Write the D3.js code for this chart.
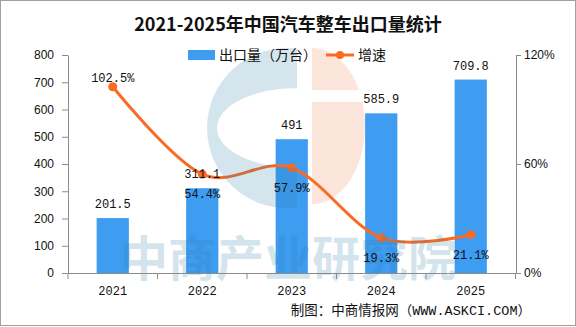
<!DOCTYPE html>
<html><head><meta charset="utf-8">
<script src="https://cdn.jsdelivr.net/npm/d3@7"></script>
<style>body{margin:0;background:#fff}svg{display:block}</style>
</head><body>
<svg id="chart" width="576" height="327"></svg>
<script>
const title = "2021-2025年中国汽车整车出口量统计";
const years = ["2021", "2022", "2023", "2024", "2025"];
const exportVolume = [201.5, 311.1, 491, 585.9, 709.8];
const growthRate = [102.5, 54.4, 57.9, 19.3, 21.1];
const leftTicks = [0, 100, 200, 300, 400, 500, 600, 700, 800];
const rightTicks = [0, 60, 120];
const seriesNames = ["出口量（万台）", "增速"];
const sourceText = "制图：中商情报网（WWW.ASKCI.COM）";
const watermarkText = "中商产业研究院";

(function () {
const svg = d3.select("#chart");
const W = 576, H = 327;
const pLeft = 68, pRight = 515.5, pTop = 55, pBottom = 273;
const barColor = "#3e9cf1", lineColor = "#fa6a22", axisColor = "#8c8c8c";
const mono = "'Liberation Mono','Noto Sans CJK SC',monospace";
const cjk = "'Noto Sans CJK SC','Liberation Mono',sans-serif";

svg.append("rect").attr("x", 0.5).attr("y", 0.5).attr("width", W - 1).attr("height", H - 2)
  .attr("fill", "#fff").attr("stroke", "#a0a0a0");

const xOuter = d3.scaleBand().domain(years).range([pLeft, pRight]).padding(0);
const x = d3.scaleBand().domain(years).range([pLeft, pRight]).paddingInner(0.64).paddingOuter(0.32);
const y = d3.scaleLinear().domain([0, 800]).range([pBottom, pTop]);
const y2 = d3.scaleLinear().domain([0, 120]).range([pBottom, pTop]);

svg.append("text").attr("x", 288).attr("y", 31).attr("text-anchor", "middle")
  .attr("font-family", cjk).attr("font-weight", "bold").attr("font-size", 18).attr("fill", "#111")
  .text(title);

svg.append("g").selectAll("rect").data(years).join("rect")
  .attr("x", d => x(d)).attr("width", x.bandwidth())
  .attr("y", (d, i) => y(exportVolume[i])).attr("height", (d, i) => pBottom - y(exportVolume[i]))
  .attr("fill", barColor);

const cx = d => xOuter(d) + xOuter.bandwidth() / 2;
const pts = years.map((d, i) => [cx(d), y2(growthRate[i])]);
svg.append("path").attr("d", d3.line().curve(d3.curveCatmullRom.alpha(0))(pts))
  .attr("fill", "none").attr("stroke", lineColor).attr("stroke-width", 3);
svg.append("g").selectAll("circle").data(pts).join("circle")
  .attr("cx", d => d[0]).attr("cy", d => d[1]).attr("r", 4.5).attr("fill", lineColor);

const wm = svg.append("g").attr("pointer-events", "none");
const cxC = 287, cyC = 128, r = 80, cut = 297;
const dy = Math.sqrt(r * r - (cut - cxC) * (cut - cxC));
wm.append("path")
  .attr("d", `M${cut},${cyC - dy} A${r},${r} 0 1,0 ${cut},${cyC + dy} Z M${cut},${cyC - 40} A80,40 0 0,0 ${cut},${cyC + 40} Z`)
  .attr("fill-rule", "evenodd").attr("fill", "#2e7da8").attr("opacity", 0.2);
const defs = svg.append("defs");
const cp = defs.append("clipPath").attr("id", "ocut");
cp.append("rect").attr("x", 300).attr("y", 40).attr("width", 100).attr("height", 50);
cp.append("rect").attr("x", 300).attr("y", 102).attr("width", 100).attr("height", 120);
wm.append("path").attr("clip-path", "url(#ocut)")
  .attr("d", "M312,48 A53,78 0 0,1 312,204 Z")
  .attr("fill", "#f08050").attr("opacity", 0.2);
wm.append("text").attr("x", 288).attr("y", 276).attr("text-anchor", "middle")
  .attr("font-family", cjk).attr("font-weight", "bold").attr("font-size", 48)
  .attr("fill", "#2e7da8").attr("opacity", 0.2).text(watermarkText);

const gL = svg.append("g").attr("transform", `translate(${pLeft},0)`)
  .call(d3.axisLeft(y).tickValues(leftTicks).tickSize(6).tickPadding(8).tickSizeOuter(0));
const gR = svg.append("g").attr("transform", `translate(516,0)`)
  .call(d3.axisRight(y2).tickValues(rightTicks).tickFormat(d => d + "%").tickSize(5).tickPadding(3).tickSizeOuter(0));
const gX = svg.append("g").attr("transform", `translate(0,${pBottom})`)
  .call(d3.axisBottom(xOuter).tickSize(0).tickPadding(13).tickSizeOuter(0));
[gL, gR, gX].forEach(g => {
  g.selectAll("path,line").attr("stroke", axisColor);
  g.selectAll("text").attr("font-family", "'Liberation Sans',sans-serif").attr("font-size", 12).attr("fill", "#111");
});
gX.selectAll("text").attr("font-family", mono).attr("font-size", 12);
gX.select(".domain").attr("d", `M62,0.5H521`);
const bounds = years.map(d => xOuter(d)).concat([xOuter(years[years.length - 1]) + xOuter.bandwidth()]);
gX.selectAll(".bd").data(bounds).join("line").attr("class", "bd")
  .attr("x1", d => d).attr("x2", d => d)
  .attr("y1", 0).attr("y2", 6).attr("stroke", axisColor);

svg.append("g").selectAll("text").data(exportVolume).join("text")
  .attr("x", (d, i) => cx(years[i])).attr("y", d => y(d) - 10)
  .attr("text-anchor", "middle").attr("font-family", mono).attr("font-size", 12).attr("fill", "#111")
  .text(d => d);

svg.append("g").selectAll("text").data(growthRate).join("text")
  .attr("x", (d, i) => cx(years[i])).attr("y", (d, i) => i === 0 ? y2(d) - 5 : y2(d) + 24)
  .attr("text-anchor", "middle").attr("font-family", mono).attr("font-size", 12).attr("fill", "#111")
  .text(d => d.toFixed(1) + "%");

const lg = svg.append("g");
lg.append("rect").attr("x", 188).attr("y", 50).attr("width", 27).attr("height", 10).attr("fill", barColor);
lg.append("text").attr("x", 219).attr("y", 60).attr("font-family", cjk).attr("font-size", 14).attr("fill", "#111").text(seriesNames[0]);
lg.append("line").attr("x1", 326).attr("x2", 354).attr("y1", 55).attr("y2", 55).attr("stroke", lineColor).attr("stroke-width", 3);
lg.append("circle").attr("cx", 340).attr("cy", 55).attr("r", 4).attr("fill", lineColor);
lg.append("text").attr("x", 358).attr("y", 60).attr("font-family", cjk).attr("font-size", 14).attr("fill", "#111").text(seriesNames[1]);

svg.append("text").attr("x", 531).attr("y", 315).attr("text-anchor", "end")
  .attr("font-family", mono).attr("font-size", 13.5).attr("fill", "#111").text(sourceText);
})();
</script>
</body></html>
